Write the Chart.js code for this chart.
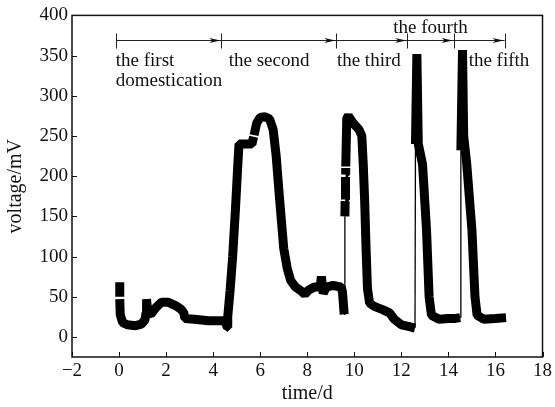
<!DOCTYPE html>
<html><head><meta charset="utf-8">
<script src="https://cdn.jsdelivr.net/npm/chart.js@4/dist/chart.umd.min.js"></script>
<style>html,body{margin:0;padding:0;background:#fff}#wrap{width:555px;height:407px}</style>
</head><body><div id="wrap"><canvas id="c" width="555" height="407"></canvas></div>
<script>
// ---- data ----
const timeD = [
  0.03, 0.03, 0.03, 0.03, 0.05, 0.15, 0.35, 0.7, 0.95, 1.1, 1.15, 1.17, 1.22, 1.35, 1.55, 1.8, 2.1, 2.4, 2.65, 2.75, 2.8, 3.2, 3.8, 4.45,
  4.5, 4.6, 4.62, 4.72, 4.83, 4.95, 5.05, 5.1, 5.4, 5.65, 5.72, 5.73, 5.74, 5.85, 6.0, 6.2, 6.4, 6.55, 6.68, 6.8, 6.9, 7.0, 7.15, 7.3,
  7.5, 7.75, 7.9, 8.05, 8.3, 8.55, 8.6, 8.68, 8.8, 9.1, 9.45, 9.5, 9.57,
  9.6, 9.61, 9.612, 9.612, 9.625, 9.627, 9.627, 9.635, 9.637, 9.637, 9.68, 9.75, 9.95, 10.2, 10.32, 10.38, 10.44, 10.5, 10.56, 10.65,
  10.85, 11.2, 11.5, 11.7, 12.0, 12.3, 12.58,
  12.6, 12.66, 12.72, 12.9, 13.07, 13.18, 13.28, 13.6, 14.0, 14.3, 14.5,
  14.53, 14.6, 14.65, 14.78, 15.0, 15.13, 15.22, 15.5, 16.0, 16.45
];
const voltageMV = [
  68, 50, null, 47, 28, 18, 15, 14, 16, 21, 30, 47, 30, 28, 36, 43, 43, 39, 34, 30, 23, 22, 20, 20,
  20, 12, 25, 58, 100, 160, 215, 240, 240, 240, 249, null, 251, 266, 273, 274, 271, 258, 225, 180, 145, 110, 85, 70,
  62, 57, 53, 58, 62, 62, 75, 54, 62, 64, 62, 55, 28,
  150, 169, null, 171, 199, null, 202, 210, null, 212, 272, 275, 266, 258, 250, 215, 170, 110, 60, 42,
  38, 34, 30, 22, 15, 13, 11,
  240, 352, 240, 215, 133, 50, 27, 22, 23, 23, 24,
  232, 357, 250, 215, 133, 50, 27, 22, 23, 24
];
const xTickValues = [-2, 0, 2, 4, 6, 8, 10, 12, 14, 16, 18];
const yTickValues = [0, 50, 100, 150, 200, 250, 300, 350, 400];
const phaseBounds = [-0.11, 4.35, 9.24, 12.25, 14.22, 16.39];
const phaseLabels = ['the first', 'domestication', 'the second', 'the third', 'the fourth', 'the fifth'];

// ---- styles / layout ----
const FONT = "'Liberation Serif', 'Times New Roman', serif";
const thinSegmentStarts = [9.57, 12.58, 14.5];
const labelAnchors = [
  {t: -0.14, v: 337, align: 'left'},
  {t: -0.14, v: 312, align: 'left'},
  {t: 4.66, v: 337, align: 'left'},
  {t: 9.26, v: 337, align: 'left'},
  {t: 13.24, v: 378, align: 'center'},
  {t: 14.86, v: 337, align: 'left'}
];
const bracketLevel = 369;

const points = timeD.map((t, i) => ({x: t, y: voltageMV[i]}));

const decor = {
  id: 'decor',
  afterDraw(chart) {
    const {ctx, chartArea: a, scales: {x, y}} = chart;
    ctx.save();
    // frame
    ctx.strokeStyle = '#111';
    ctx.lineWidth = 1.5;
    ctx.strokeRect(a.left, a.top, a.right - a.left, a.bottom - a.top);
    // inward ticks
    ctx.lineWidth = 1;
    ctx.beginPath();
    xTickValues.forEach(v => { const px = Math.round(x.getPixelForValue(v)) + 0.5; ctx.moveTo(px, a.bottom); ctx.lineTo(px, a.bottom - 5); });
    yTickValues.forEach(v => { const py = Math.round(y.getPixelForValue(v)) + 0.5; ctx.moveTo(a.left, py); ctx.lineTo(a.left + 5, py); });
    ctx.stroke();
    // phase bracket line
    const by = Math.round(y.getPixelForValue(bracketLevel)) + 0.5;
    ctx.strokeStyle = '#222';
    ctx.beginPath();
    ctx.moveTo(x.getPixelForValue(phaseBounds[0]), by);
    ctx.lineTo(x.getPixelForValue(phaseBounds[phaseBounds.length - 1]), by);
    phaseBounds.forEach(t => { const px = Math.round(x.getPixelForValue(t)) + 0.5; ctx.moveTo(px, by - 7); ctx.lineTo(px, by + 8); });
    ctx.stroke();
    ctx.fillStyle = '#111';
    phaseBounds.slice(1).forEach(t => {
      const px = x.getPixelForValue(t) - 1;
      ctx.beginPath();
      ctx.moveTo(px, by);
      ctx.lineTo(px - 11, by - 2.5);
      ctx.lineTo(px - 8, by);
      ctx.lineTo(px - 11, by + 2.5);
      ctx.closePath();
      ctx.fill();
    });
    // phase labels
    ctx.font = '19px ' + FONT;
    ctx.textBaseline = 'alphabetic';
    ctx.fillStyle = '#111';
    phaseLabels.forEach((s, i) => {
      const p = labelAnchors[i];
      ctx.textAlign = p.align;
      ctx.fillText(s, x.getPixelForValue(p.t), y.getPixelForValue(p.v));
    });
    ctx.restore();
  }
};

new Chart(document.getElementById('c'), {
  type: 'line',
  data: {datasets: [{
    data: points,
    borderColor: '#000',
    borderWidth: 9,
    borderJoinStyle: 'bevel',
    borderCapStyle: 'butt',
    pointRadius: 0,
    tension: 0,
    spanGaps: false,
    segment: {
      borderWidth: c => thinSegmentStarts.includes(c.p0.parsed.x) ? 1.3 : 9
    }
  }]},
  options: {
    responsive: false,
    animation: false,
    layout: {padding: {left: 0, top: 14, right: 11, bottom: 0}},
    plugins: {legend: {display: false}, tooltip: {enabled: false}},
    scales: {
      x: {
        type: 'linear', min: -2, max: 18,
        afterBuildTicks: s => { s.ticks = xTickValues.map(v => ({value: v})); },
        afterFit: s => { s.height = 50; },
        grid: {display: false, drawTicks: false},
        border: {display: false},
        ticks: {color: '#111', font: {family: FONT, size: 19}, padding: 3, maxRotation: 0,
                callback: v => String(v).replace('-', '\u2212')},
        title: {display: true, text: 'time/d', color: '#111', font: {family: FONT, size: 20}, padding: {top: 0, bottom: 1}}
      },
      y: {
        type: 'linear', min: -25, max: 400,
        afterBuildTicks: s => { s.ticks = yTickValues.map(v => ({value: v})); },
        afterFit: s => { s.width = 72; },
        grid: {display: false, drawTicks: false},
        border: {display: false},
        ticks: {color: '#111', font: {family: FONT, size: 19}, padding: 4},
        title: {display: true, text: 'voltage/mV', color: '#111', font: {family: FONT, size: 20}, padding: {top: 4, bottom: 0}}
      }
    }
  },
  plugins: [decor]
});
</script>
</body></html>
